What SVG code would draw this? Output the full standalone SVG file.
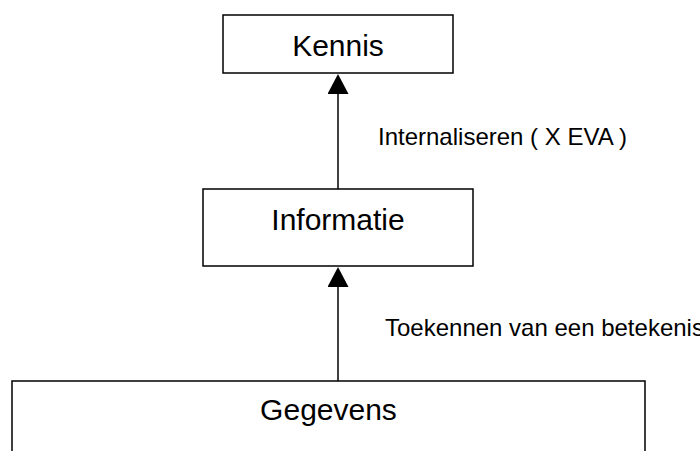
<svg xmlns="http://www.w3.org/2000/svg" width="700" height="451" viewBox="0 0 700 451">
<style>
.box{fill:#fff;stroke:#000;stroke-width:1.5}
.lbl{font-family:"Liberation Sans",Arial,sans-serif;font-size:30px;fill:#000;text-anchor:middle}
.edge{font-family:"Liberation Sans",Arial,sans-serif;font-size:24px;fill:#000}
.conn{stroke:#000;stroke-width:1.5;fill:none}
</style>
<defs>
<marker id="arr" viewBox="0 0 20 21" refX="0" refY="10.5" markerWidth="20" markerHeight="21" markerUnits="userSpaceOnUse" orient="auto">
<path d="M0 0 L20 10.5 L0 21 Z" fill="#000"/>
</marker>
</defs>
<rect width="700" height="451" fill="#fff"/>
<g id="connectors">
<line class="conn" x1="338" y1="189" x2="338" y2="94" marker-end="url(#arr)"/>
<line class="conn" x1="338" y1="381" x2="338" y2="287" marker-end="url(#arr)"/>
<text class="edge" x="378" y="145">Internaliseren ( X EVA )</text>
<text class="edge" x="385" y="336">Toekennen van een betekenis</text>
</g>
<g id="kennis">
<rect class="box" x="223" y="15" width="230" height="58"/>
<text class="lbl" x="338" y="56">Kennis</text>
</g>
<g id="informatie">
<rect class="box" x="203" y="189" width="270" height="77"/>
<text class="lbl" x="338" y="230">Informatie</text>
</g>
<g id="gegevens">
<path class="box" d="M12 460 V381 H645 V460"/>
<text class="lbl" x="328.5" y="420">Gegevens</text>
</g>
</svg>
